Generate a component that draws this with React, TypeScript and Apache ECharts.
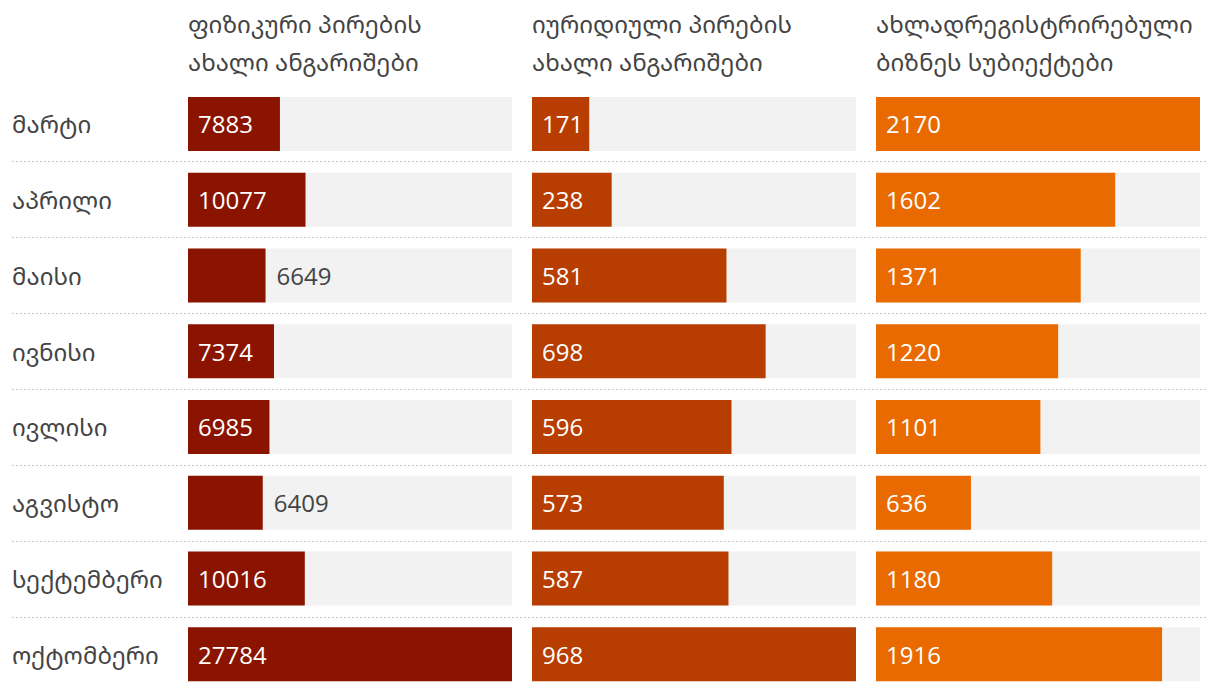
import React, { useEffect, useRef } from "react";
import * as echarts from "echarts";

const months = ["მარტი", "აპრილი", "მაისი", "ივნისი", "ივლისი", "აგვისტო", "სექტემბერი", "ოქტომბერი"];
const individualAccounts = [7883, 10077, 6649, 7374, 6985, 6409, 10016, 27784];
const legalAccounts = [171, 238, 581, 698, 596, 573, 587, 968];
const newBusinesses = [2170, 1602, 1371, 1220, 1101, 636, 1180, 1916];
const headers = [
  "ფიზიკური პირების\nახალი ანგარიშები",
  "იურიდიული პირების\nახალი ანგარიშები",
  "ახლადრეგისტრირებული\nბიზნეს სუბიექტები",
];
const colors = ["#8a1400", "#b73e00", "#e86a00"];

const FONT = "'Open Sans', 'Noto Sans Georgian', 'DejaVu Sans', sans-serif";
const TEXT = "#444444";
const PANEL_W = 324;
const PANEL_LEFT = [188, 532, 876];

// approximate label width in the reference font (narrow "1")
const labelWidth = (v: number) =>
  String(v)
    .split("")
    .reduce((s, c) => s + (c === "1" ? 11 : 14.75), 0);

export default function App() {
  const ref = useRef<HTMLDivElement>(null);
  useEffect(() => {
    if (!ref.current) return;
    const chart = echarts.init(ref.current, null, { renderer: "svg" });
    const allSeries = [individualAccounts, legalAccounts, newBusinesses];
    const top = 86;
    const height = 608;
    const grids: any[] = PANEL_LEFT.map((l) => ({ left: l, width: PANEL_W, top, height }));
    grids.push({ left: 12, width: 1196, top: 161, height: 456 });

    const xAxis: any[] = allSeries.map((s, i) => ({
      type: "value",
      gridIndex: i,
      min: 0,
      max: Math.max(...s),
      show: false,
    }));
    xAxis.push({ type: "value", gridIndex: 3, show: false, min: 0, max: 1 });

    const yAxis: any[] = allSeries.map((_, i) => ({
      type: "category",
      gridIndex: i,
      data: months,
      inverse: true,
      axisLine: { show: false },
      axisTick: { show: false },
      splitLine: { show: false },
      axisLabel: {
        show: i === 0,
        align: "left",
        margin: 176,
        fontSize: 24,
        color: TEXT,
        fontFamily: FONT,
        padding: [0, 0, 8, 0],
      },
    }));
    yAxis.push({
      type: "value",
      gridIndex: 3,
      min: 1,
      max: 7,
      interval: 1,
      axisLine: { show: false },
      axisTick: { show: false },
      axisLabel: { show: false },
      splitLine: { show: true, lineStyle: { color: "#c8c8c8", type: [2, 2], width: 1 } },
    });

    const series: any[] = allSeries.map((s, i) => {
      const max = Math.max(...s);
      return {
        type: "bar",
        xAxisIndex: i,
        yAxisIndex: i,
        barWidth: 54,
        showBackground: true,
        backgroundStyle: { color: "#f2f2f2" },
        itemStyle: { color: colors[i] },
        data: s.map((v) => {
          const px = (v / max) * PANEL_W;
          const inside = px - labelWidth(v) >= 19.5;
          return {
            value: v,
            label: inside
              ? { show: true, position: "insideLeft", distance: 10, color: "#ffffff" }
              : { show: true, position: "right", distance: 11, color: TEXT },
          };
        }),
        label: { show: true, fontSize: 24, fontFamily: FONT },
      };
    });
    series.push({ type: "line", xAxisIndex: 3, yAxisIndex: 3, data: [] });

    chart.setOption({
      animation: false,
      backgroundColor: "#ffffff",
      title: headers.map((h, i) => ({
        text: h,
        left: PANEL_LEFT[i],
        top: 4,
        padding: 0,
        textStyle: { fontSize: 24, fontWeight: "normal", color: TEXT, lineHeight: 38, fontFamily: FONT },
      })),
      grid: grids,
      xAxis,
      yAxis,
      series,
    });
    return () => chart.dispose();
  }, []);
  return (
    <div
      ref={ref}
      style={{ position: "absolute", left: 0, top: 0, width: 1220, height: 692 }}
    />
  );
}
